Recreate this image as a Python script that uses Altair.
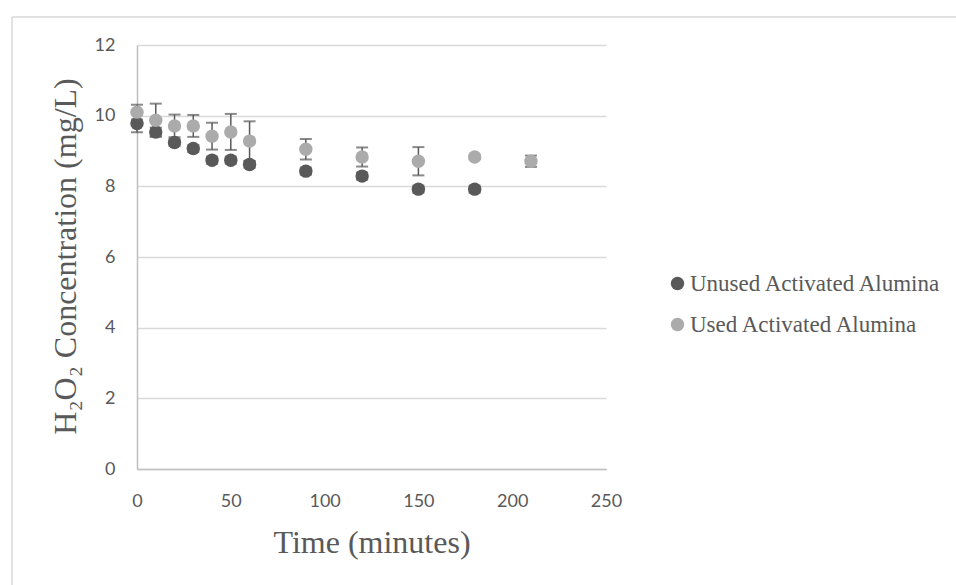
import altair as alt
import pandas as pd

# ---- data ----
time_unused = [0, 10, 20, 30, 40, 50, 60, 90, 120, 150, 180]
conc_unused = [9.78, 9.54, 9.24, 9.07, 8.74, 8.74, 8.62, 8.43, 8.29, 7.92, 7.92]
err_unused = [0.25, 0.12, 0.10, 0.10, 0.10, 0.10, 0.10, 0.10, 0.10, 0.10, 0.10]

time_used = [0, 10, 20, 30, 40, 50, 60, 90, 120, 150, 180, 210]
conc_used = [10.10, 9.87, 9.71, 9.71, 9.42, 9.54, 9.28, 9.05, 8.83, 8.71, 8.83, 8.71]
err_used = [0.21, 0.47, 0.32, 0.31, 0.38, 0.51, 0.56, 0.29, 0.27, 0.40, 0.05, 0.16]

series_names = ["Unused Activated Alumina", "Used Activated Alumina"]
series_colors = ["#595959", "#ababab"]

x_ticks = [0, 50, 100, 150, 200, 250]
y_ticks = [0, 2, 4, 6, 8, 10, 12]

df = pd.concat([
    pd.DataFrame({"time": time_unused, "conc": conc_unused, "err": err_unused,
                  "series": series_names[0]}),
    pd.DataFrame({"time": time_used, "conc": conc_used, "err": err_used,
                  "series": series_names[1]}),
], ignore_index=True)

SERIF = "Liberation Serif"
SANS = "Lato"
GRAY = "#595959"

x_enc = alt.X("time:Q",
              scale=alt.Scale(domain=[0, 250], nice=False, zero=False),
              axis=alt.Axis(values=x_ticks, title="Time (minutes)", grid=False,
                            domain=True, domainColor="#bfbfbf", domainWidth=1.5,
                            ticks=False, labelFont=SANS, labelFontSize=18,
                            labelColor=GRAY, labelPadding=23, labelFlush=False,
                            titleFont=SERIF, titleFontSize=32, titleFontWeight="normal",
                            titleColor=GRAY, titleY=73, titleBaseline="middle"))
y_enc = alt.Y("conc:Q",
              scale=alt.Scale(domain=[0, 12], nice=False, zero=True),
              axis=alt.Axis(values=y_ticks, title="H\u2082O\u2082 Concentration (mg/L)",
                            grid=True, gridColor="#d9d9d9", gridWidth=1.5,
                            domain=True, domainColor="#bfbfbf", domainWidth=1.5,
                            ticks=False, labelFont=SANS, labelFontSize=18,
                            labelColor=GRAY, labelPadding=22, labelFlush=False,
                            titleFont=SERIF, titleFontSize=32, titleFontWeight="normal",
                            titleColor=GRAY, titleX=-72, titleY=211,
                            titleBaseline="middle", titleAlign="center"))

base = alt.Chart(df).transform_calculate(
    lo="datum.conc - datum.err", hi="datum.conc + datum.err"
)

err_rule = base.mark_rule(color=GRAY, strokeWidth=1.5).encode(
    x=x_enc, y=alt.Y("lo:Q"), y2="hi:Q"
)
cap_lo = base.mark_tick(color=GRAY, orient="horizontal", size=12, thickness=2).encode(
    x="time:Q", y="lo:Q"
)
cap_hi = base.mark_tick(color=GRAY, orient="horizontal", size=12, thickness=2).encode(
    x="time:Q", y="hi:Q"
)

points = base.mark_circle(size=180, opacity=1).encode(
    x=x_enc,
    y=y_enc,
    color=alt.Color("series:N",
                    scale=alt.Scale(domain=series_names, range=series_colors),
                    sort=series_names,
                    legend=alt.Legend(orient="none", legendX=529, legendY=227,
                                      title=None, labelFont=SERIF, labelFontSize=23,
                                      labelColor=GRAY, labelLimit=0,
                                      symbolType="circle",
                                      symbolSize=180, symbolStrokeWidth=0,
                                      rowPadding=17, labelOffset=1, padding=0)),
    order=alt.Order("series:N", sort="ascending"),
)

border_df = pd.DataFrame({"k": [0]})
border_left = alt.Chart(border_df).mark_rule(color="#d9d9d9", strokeWidth=1.5).encode(
    x=alt.value(-125), y=alt.value(-28), y2=alt.value(560)
)
border_top = alt.Chart(border_df).mark_rule(color="#d9d9d9", strokeWidth=1.5).encode(
    x=alt.value(-125), x2=alt.value(830), y=alt.value(-28)
)

chart = alt.layer(border_left, border_top, err_rule, cap_lo, cap_hi, points).properties(
    width=469, height=424,
    autosize="none",
    padding={"left": 137, "top": 45, "right": 350, "bottom": 116},
    background="white",
).configure_view(stroke=None)

chart.save("out.html", embed_options={"renderer": "svg", "actions": False})
